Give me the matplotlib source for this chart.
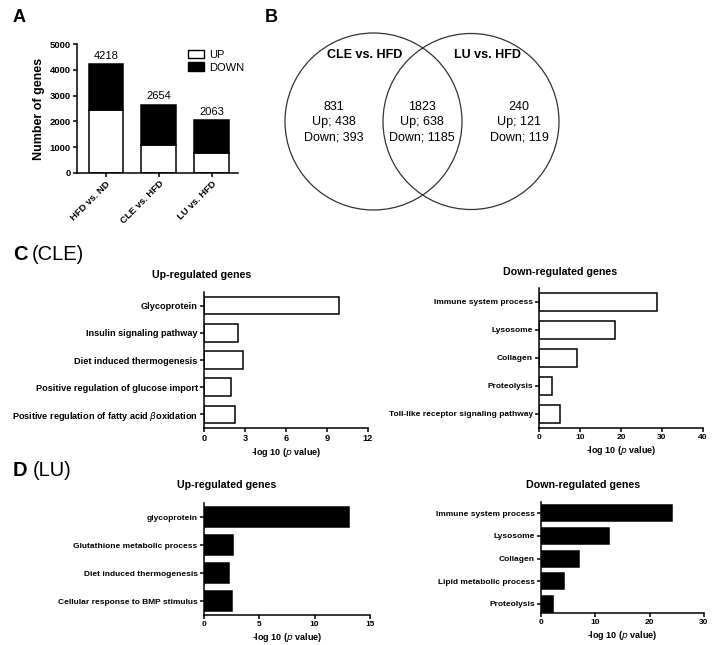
import matplotlib
matplotlib.use('Agg')
import matplotlib.pyplot as plt
from matplotlib.patches import Circle, Patch

plt.rcParams['font.family'] = ['Liberation Sans', 'DejaVu Sans']

#Panel A data : number of DEGs
groups = ['HFD vs. ND', 'CLE vs. HFD', 'LU vs. HFD']
up_counts = [2460, 1076, 759]
total_counts = [4218, 2654, 2063]
down_counts = [t - u for t, u in zip(total_counts, up_counts)]

#Panel B data : venn
venn_names = ['CLE vs. HFD', 'LU vs. HFD']
venn_total = [831, 1823, 240]
venn_up = [438, 638, 121]
venn_down = [393, 1185, 119]

#Panel C data (CLE)
c_up_terms = ['Glycoprotein', 'Insulin signaling pathway', 'Diet induced thermogenesis',
              'Positive regulation of glucose import', 'Positive regulation of fatty acid $\\beta$oxidation']
c_up_vals = [9.9, 2.5, 2.85, 1.95, 2.3]
c_down_terms = ['Immune system process', 'Lysosome', 'Collagen', 'Proteolysis',
                'Toll-like receptor signaling pathway']
c_down_vals = [28.8, 18.5, 9.3, 3.2, 5.1]

#Panel D data (LU)
d_up_terms = ['glycoprotein', 'Glutathione metabolic process', 'Diet induced thermogenesis',
              'Cellular response to BMP stimulus']
d_up_vals = [13.1, 2.6, 2.3, 2.5]
d_down_terms = ['Immune system process', 'Lysosome', 'Collagen', 'Lipid metabolic process',
                'Proteolysis']
d_down_vals = [24.2, 12.5, 7.0, 4.3, 2.2]

W, H = 715, 645
fig = plt.figure(figsize=(W / 100, H / 100), dpi=100)


def px_axes(l, t, r, b):
    return fig.add_axes([l / W, 1 - b / H, (r - l) / W, (b - t) / H])


#Overlay axes in pixel units for labels and venn
ov = fig.add_axes([0, 0, 1, 1])
ov.set_xlim(0, W)
ov.set_ylim(H, 0)
ov.axis('off')
ov.patch.set_alpha(0)

ov.text(13, 18, 'A', fontsize=13, fontweight='bold', va='center')
ov.text(265, 18, 'B', fontsize=13, fontweight='bold', va='center')
ov.text(13, 255, 'C', fontsize=14.5, fontweight='bold', va='center')
ov.text(32, 255, '(CLE)', fontsize=14.5, va='center')
ov.text(13, 470, 'D', fontsize=14.5, fontweight='bold', va='center')
ov.text(33, 470, '(LU)', fontsize=14.5, va='center')

#Venn diagram
ov.add_patch(Circle((373.5, 121.5), 88.5, fill=False, lw=0.9, ec='#333333'))
ov.add_patch(Circle((471, 121.5), 88, fill=False, lw=0.9, ec='#333333'))
ov.text(365, 55, venn_names[0], fontsize=9, fontweight='bold', ha='center', va='center')
ov.text(487, 55, venn_names[1], fontsize=9, fontweight='bold', ha='center', va='center')
for x, t, u, d in zip([334, 422, 519], venn_total, venn_up, venn_down):
    ov.text(x, 107, str(t), fontsize=9, ha='center', va='center')
    ov.text(x, 122, 'Up; %d' % u, fontsize=9, ha='center', va='center')
    ov.text(x, 137, 'Down; %d' % d, fontsize=9, ha='center', va='center')


def style(ax, size):
    ax.spines['top'].set_visible(False)
    ax.spines['right'].set_visible(False)
    ax.spines['left'].set_linewidth(1.1)
    ax.spines['bottom'].set_linewidth(1.1)
    ax.tick_params(width=1.1, length=3, labelsize=size, pad=1.5)
    for lab in ax.get_xticklabels() + ax.get_yticklabels():
        lab.set_fontweight('bold')


#Panel A stacked bars
ax = px_axes(77, 44, 238, 173)
x = list(range(len(groups)))
ax.bar(x, up_counts, width=0.66, color='white', edgecolor='black', lw=1.1)
ax.bar(x, down_counts, bottom=up_counts, width=0.66, color='black', edgecolor='black', lw=1.1)
for i, t in zip(x, total_counts):
    ax.text(i, t + 120, str(t), ha='center', va='bottom', fontsize=8)
ax.set_xlim(-0.55, 2.5)
ax.set_ylim(0, 5000)
ax.set_yticks([0, 1000, 2000, 3000, 4000, 5000])
ax.set_xticks(x)
ax.set_xticklabels(groups, rotation=45, ha='right', rotation_mode='anchor')
ax.set_ylabel('Number of genes', fontsize=9, fontweight='bold', labelpad=3)
style(ax, 6.8)
ax.legend(handles=[Patch(facecolor='white', edgecolor='black', label='UP'),
                   Patch(facecolor='black', edgecolor='black', label='DOWN')],
          loc='upper left', bbox_to_anchor=(182 / W, 1 - 44 / H), bbox_transform=fig.transFigure,
          frameon=False, fontsize=8, handlelength=1.5, handleheight=0.8, borderpad=0,
          labelspacing=0.25, handletextpad=0.4)


def hbars(box, terms, vals, xmax, xticks, height, color, title, title_x, title_y, ylim_bottom, size):
    ax = px_axes(*box)
    y = list(range(len(terms)))
    ax.barh(y, vals, height=height, color=color, edgecolor='black', lw=1.1)
    ax.set_yticks(y)
    ax.set_yticklabels(terms)
    ax.set_ylim(ylim_bottom, -0.5)
    ax.set_xlim(0, xmax)
    ax.set_xticks(xticks)
    ax.set_xlabel('-log 10 ($\\bf{\\it{p}}$ value)', fontsize=6.5, fontweight='bold', labelpad=2)
    style(ax, size)
    ov.text(title_x, title_y, title, fontsize=7.7, fontweight='bold', ha='center', va='center')
    return ax


#Panel C
hbars((204, 292, 368, 428), c_up_terms, c_up_vals, 12, [0, 3, 6, 9, 12], 0.65, 'white',
      'Up-regulated genes', 202, 275, 4.5, 6.6)
hbars((539, 288, 703, 428), c_down_terms, c_down_vals, 40, [0, 10, 20, 30, 40], 0.66, 'white',
      'Down-regulated genes', 560, 272, 4.5, 6)

#Panel D
hbars((204, 503, 370, 615), d_up_terms, d_up_vals, 15, [0, 5, 10, 15], 0.68, 'black',
      'Up-regulated genes', 227, 485, 3.5, 6)
hbars((541, 502, 704, 613), d_down_terms, d_down_vals, 30, [0, 10, 20, 30], 0.7, 'black',
      'Down-regulated genes', 583, 485, 4.4, 6)

fig.savefig('out.png', dpi=100)
